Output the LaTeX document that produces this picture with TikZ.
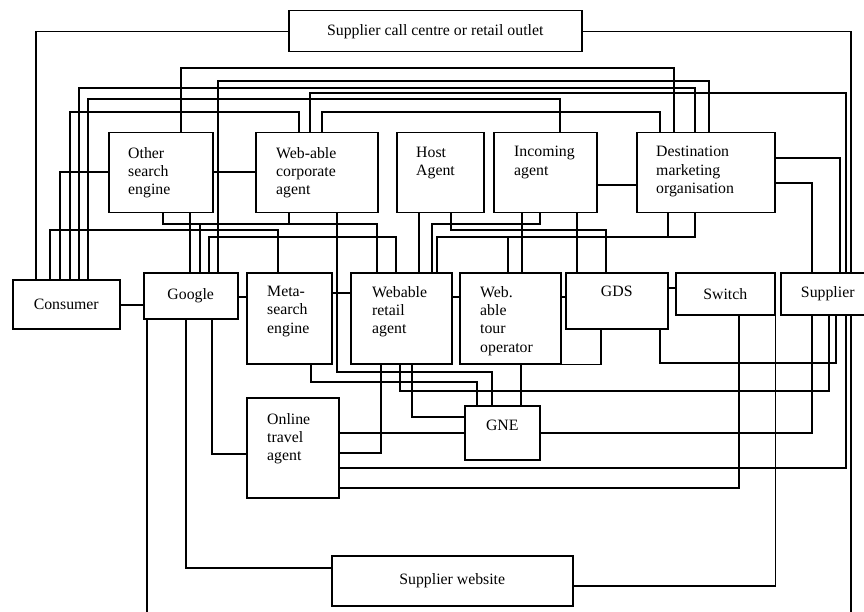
\documentclass[tikz,border=0pt]{standalone}
\usepackage{fontspec}
\setmainfont{Liberation Serif}
\tikzset{
  box/.style={draw, line width=1.5pt, anchor=north west, inner sep=0pt},
  lbl/.style={anchor=north west, align=left, inner sep=0pt},
  wire/.style={line width=1.3pt},
}
\begin{document}
\begin{tikzpicture}[x=1pt, y=-1pt, font=\fontsize{15.8}{18.4}\selectfont]
\clip (0,0) rectangle (864,612);
\fill[white] (0,0) rectangle (864,612);

% boxes
\node[box, minimum width=293pt, minimum height=41pt] (call) at (288,10) {Supplier call centre or retail outlet};
\node[box, minimum width=104pt, minimum height=80pt, label={[lbl, xshift=20pt, yshift=-15pt]north west:{Other\\search\\engine}}] (ose) at (108,132) {};
\node[box, minimum width=122pt, minimum height=80pt, label={[lbl, xshift=21pt, yshift=-15pt]north west:{Web-able\\corporate\\agent}}] (wca) at (255,132) {};
\node[box, minimum width=87pt, minimum height=80pt, label={[lbl, xshift=20pt, yshift=-15pt]north west:{Host\\Agent}}] (host) at (396,132) {};
\node[box, minimum width=103pt, minimum height=80pt, label={[lbl, xshift=21pt, yshift=-14pt]north west:{Incoming\\agent}}] (inc) at (493,132) {};
\node[box, minimum width=138pt, minimum height=80pt, label={[lbl, xshift=20pt, yshift=-14pt]north west:{Destination\\marketing\\organisation}}] (dmo) at (636,132) {};
\node[box, minimum width=107pt, minimum height=49pt] (cons) at (12,279) {Consumer};
\node[box, minimum width=94pt, minimum height=46pt] (goog) at (143,272) {Google};
\node[box, minimum width=85pt, minimum height=91pt, label={[lbl, xshift=21pt, yshift=-14pt]north west:{Meta-\\search\\engine}}] (meta) at (246,272) {};
\node[box, minimum width=101pt, minimum height=91pt, label={[lbl, xshift=22pt, yshift=-14pt]north west:{Webable\\retail\\agent}}] (wra) at (350,272) {};
\node[box, minimum width=101pt, minimum height=91pt, label={[lbl, xshift=21pt, yshift=-14pt]north west:{Web.\\able\\tour\\operator}}] (tour) at (459,272) {};
\node[box, minimum width=102pt, minimum height=56pt, label={[lbl, anchor=north, yshift=-14pt]north:GDS}] (gds) at (565,272) {};
\node[box, minimum width=99pt, minimum height=42pt] (sw) at (675,272) {Switch};
\node[box, minimum width=94pt, minimum height=42pt] (supp) at (780,272) {Supplier};
\node[box, minimum width=92pt, minimum height=100pt, label={[lbl, xshift=21pt, yshift=-16pt]north west:{Online\\travel\\agent}}] (ota) at (246,397) {};
\node[box, minimum width=75pt, minimum height=54pt, label={[lbl, anchor=north, yshift=-15pt]north:GNE}] (gne) at (464,405) {};
\node[box, minimum width=241pt, minimum height=50pt] (web) at (331,555) {Supplier website};

% from the top row and the call centre
\draw[wire] (call.west) -| (cons.north -| 36,0);
\draw[wire] (call.east) -| (supp.north -| 851,0);
\draw[wire] (cons.north -| 50,0) |- (278,230) -- (meta.north -| 278,0);
\draw[wire] (cons.north -| 60,0) |- (ose.west |- 0,172);
\draw[wire] (cons.north -| 70,0) |- (299,112) -- (wca.north -| 299,0);
\draw[wire] (cons.north -| 79,0) |- (695,88) -- (dmo.north -| 695,0);
\draw[wire] (cons.north -| 88,0) |- (560,99) -- (inc.north -| 560,0);
\draw[wire] (cons.east |- 0,305) -- (goog.west |- 0,305);
\draw[wire] (ose.north -| 181,0) |- (674,68) -- (dmo.north -| 674,0);
\draw[wire] (goog.north -| 218,0) |- (709,81) -- (dmo.north -| 709,0);
\draw[wire] (wca.north -| 310,0) |- (846,93) -- (supp.north -| 846,0);
\draw[wire] (wca.north -| 322,0) |- (660,112) -- (dmo.north -| 660,0);
\draw[wire] (ose.east |- 0,172) -- (wca.west |- 0,172);
\draw[wire] (inc.east |- 0,185) -- (dmo.west |- 0,185);
\draw[wire] (dmo.east |- 0,158) -| (supp.north -| 840,0);
\draw[wire] (dmo.east |- 0,183) -| (supp.north -| 812,0);
\draw[wire] (ose.south -| 190,0) -- (goog.north -| 190,0);
\draw[wire] (ose.south -| 163,0) |- (377,224) -- (wra.north -| 377,0);
\draw[wire] (wca.south -| 289,0) |- (200,224) -- (goog.north -| 200,0);
\draw[wire] (goog.north -| 209,0) |- (396,237) -- (wra.north -| 396,0);
\draw[wire] (wca.south -| 337,0) |- (492,372) -- (gne.north -| 492,0);
\draw[wire] (host.south -| 419,0) -- (wra.north -| 419,0);
\draw[wire] (host.south -| 451,0) |- (606,230) -- (gds.north -| 606,0);
\draw[wire] (inc.south -| 540,0) |- (432,224) -- (wra.north -| 432,0);
\draw[wire] (inc.south -| 522,0) -- (tour.north -| 522,0);
\draw[wire] (inc.south -| 577,0) -- (gds.north -| 577,0);
\draw[wire] (dmo.south -| 668,0) |- (437,237) -- (wra.north -| 437,0);
\draw[wire] (dmo.south -| 695,0) |- (508,237) -- (tour.north -| 508,0);

% middle row
\draw[wire] (goog.east |- 0,297) -- (meta.west |- 0,297);
\draw[wire] (meta.east |- 0,293) -- (wra.west |- 0,293);
\draw[wire] (wra.east |- 0,297) -- (tour.west |- 0,297);
\draw[wire] (tour.east |- 0,297) -- (gds.west |- 0,297);
\draw[wire] (gds.east |- 0,288) -- (sw.west |- 0,288);

% below
\draw[wire] (gds.south -| 601,0) |- (tour.south east);
\draw[wire] (gds.south -| 660,0) |- (836,363) -- (supp.south -| 836,0);
\draw[wire] (sw.south -| 739,0) |- (ota.east |- 0,488);
\draw[wire] (sw.south east) |- (web.east |- 0,586);
\draw[wire] (supp.south -| 812,0) |- (gne.east |- 0,433);
\draw[wire] (supp.south -| 829,0) |- (400,391) -- (wra.south -| 400,0);
\draw[wire] (supp.south -| 846,0) |- (ota.east |- 0,468);
\draw[wire] (goog.south -| 147,0) -- (147,630) -| (supp.south -| 851,0);
\draw[wire] (meta.south -| 311,0) |- (477,382) -- (gne.north -| 477,0);
\draw[wire] (wra.south -| 381,0) |- (ota.east |- 0,453);
\draw[wire] (wra.south -| 412,0) |- (gne.west |- 0,417);
\draw[wire] (tour.south -| 521,0) -- (gne.north -| 521,0);
\draw[wire] (ota.east |- 0,433) -- (gne.west |- 0,433);
\draw[wire] (goog.south -| 186,0) |- (web.west |- 0,568);
\draw[wire] (goog.south -| 212,0) |- (ota.west |- 0,454);
\end{tikzpicture}
\end{document}
